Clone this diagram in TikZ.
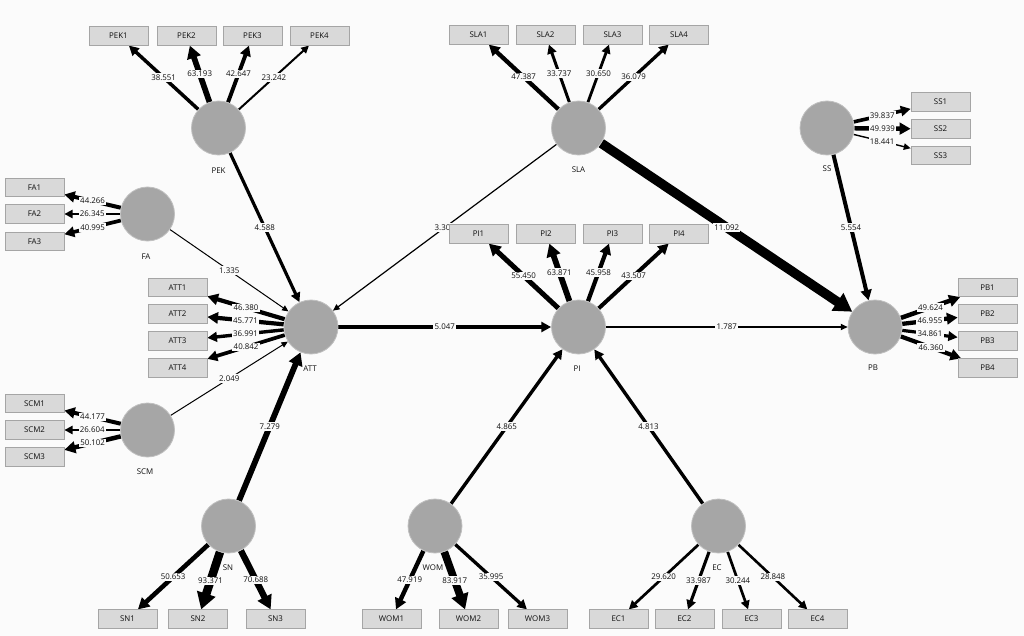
\documentclass[tikz,border=0pt]{standalone}
\usepackage{fontspec}
\setmainfont{Open Sans}
\usetikzlibrary{arrows.meta}
\definecolor{bgc}{RGB}{251,251,251}
\definecolor{cfill}{RGB}{166,166,166}
\definecolor{cdraw}{RGB}{192,192,192}
\definecolor{bfill}{RGB}{217,217,217}
\definecolor{bdraw}{RGB}{165,165,165}
\definecolor{txt}{RGB}{15,15,15}
\pgfdeclarelayer{bg}
\pgfdeclarelayer{edges}
\pgfsetlayers{bg,edges,main}
\tikzset{
  lv/.style={fill=bgc, inner sep=1.3pt, text=txt, font=\fontsize{7.9}{8}\selectfont},
  lvc/.style={fill=none, inner sep=0pt, text=txt, font=\fontsize{7.9}{8}\selectfont},
  con/.style={circle, fill=cfill, draw=cdraw, line width=0.8pt, minimum size=54pt, inner sep=0pt},
  ind/.style={rectangle, fill=bfill, draw=bdraw, line width=0.7pt, minimum width=59pt, minimum height=18.5pt, inner sep=0pt, text=txt, font=\fontsize{7.9}{8}\selectfont},
  ed/.style={line width=#1pt, draw=black, -{Triangle[length=5pt 1.35, width=4pt 1.7]}}
}
\begin{document}
\begin{tikzpicture}[x=1pt,y=-1pt]
\begin{pgfonlayer}{bg}
\fill[bgc] (0,0) rectangle (1024,636);
\end{pgfonlayer}
\useasboundingbox (0,0) rectangle (1024,636);
% constructs
\node[con] (PEK) at (218.5,128) {};
\node[con] (SLA) at (578.5,128) {};
\node[con] (SS) at (827,128) {};
\node[con] (FA) at (147.5,214) {};
\node[con] (ATT) at (311,327) {};
\node[con] (SCM) at (147.5,430) {};
\node[con] (PI) at (578.5,327) {};
\node[con] (PB) at (875,327) {};
\node[con] (SN) at (228.5,526) {};
\node[con] (WOM) at (435,526) {};
\node[con] (EC) at (718.5,526) {};
% construct labels
\node[lvc] (PEKl) at (218.5,171) {PEK};
\node[lvc] (SLAl) at (578.5,170) {SLA};
\node[lvc] (SSl) at (827,169) {SS};
\node[lvc] (FAl) at (146,257) {FA};
\node[lvc] (ATTl) at (310,369) {ATT};
\node[lvc] (SCMl) at (145,472) {SCM};
\node[lvc] (PIl) at (577,369) {PI};
\node[lvc] (PBl) at (873,368) {PB};
\node[lvc] (SNl) at (228,568) {SN};
\node[lvc] (WOMl) at (433,568) {WOM};
\node[lvc] (ECl) at (717,568) {EC};
% indicators
\node[ind] (PEK1) at (118.5,36) {PEK1};
\node[ind] (PEK2) at (186.5,36) {PEK2};
\node[ind] (PEK3) at (252.5,36) {PEK3};
\node[ind] (PEK4) at (319.5,36) {PEK4};
\node[ind] (SLA1) at (478.5,35) {SLA1};
\node[ind] (SLA2) at (545.5,35) {SLA2};
\node[ind] (SLA3) at (612.5,35) {SLA3};
\node[ind] (SLA4) at (679,35) {SLA4};
\node[ind] (SS1) at (940.5,102) {SS1};
\node[ind] (SS2) at (940.5,129) {SS2};
\node[ind] (SS3) at (940.5,155.5) {SS3};
\node[ind] (FA1) at (34.5,187.5) {FA1};
\node[ind] (FA2) at (34.5,214) {FA2};
\node[ind] (FA3) at (34.5,241.5) {FA3};
\node[ind] (ATT1) at (177.5,287.5) {ATT1};
\node[ind] (ATT2) at (177.5,314) {ATT2};
\node[ind] (ATT3) at (177.5,341) {ATT3};
\node[ind] (ATT4) at (177.5,368) {ATT4};
\node[ind] (SCM1) at (34.5,403.5) {SCM1};
\node[ind] (SCM2) at (34.5,430) {SCM2};
\node[ind] (SCM3) at (34.5,457) {SCM3};
\node[ind] (PI1) at (478.5,234) {PI1};
\node[ind] (PI2) at (546,234) {PI2};
\node[ind] (PI3) at (612.5,234) {PI3};
\node[ind] (PI4) at (679,234) {PI4};
\node[ind] (PB1) at (987.5,287.5) {PB1};
\node[ind] (PB2) at (987.5,314) {PB2};
\node[ind] (PB3) at (987.5,341) {PB3};
\node[ind] (PB4) at (987.5,368) {PB4};
\node[ind] (SN1) at (127.5,619) {SN1};
\node[ind] (SN2) at (198,619) {SN2};
\node[ind] (SN3) at (275.5,619) {SN3};
\node[ind] (WOM1) at (391.5,619) {WOM1};
\node[ind] (WOM2) at (468.5,619) {WOM2};
\node[ind] (WOM3) at (537.5,619) {WOM3};
\node[ind] (EC1) at (618.5,619) {EC1};
\node[ind] (EC2) at (684.5,619) {EC2};
\node[ind] (EC3) at (751.5,619) {EC3};
\node[ind] (EC4) at (817.5,619) {EC4};
\begin{pgfonlayer}{edges}
% outer loadings
\draw[ed=3.5] (PEK) -- node[lv]{38.551} (PEK1);
\draw[ed=5.7] (PEK) -- node[lv]{63.193} (PEK2);
\draw[ed=3.9] (PEK) -- node[lv]{42.647} (PEK3);
\draw[ed=2.0] (PEK) -- node[lv]{23.242} (PEK4);
\draw[ed=4.3] (SLA) -- node[lv]{47.387} (SLA1);
\draw[ed=3.0] (SLA) -- node[lv]{33.737} (SLA2);
\draw[ed=2.8] (SLA) -- node[lv]{30.650} (SLA3);
\draw[ed=3.3] (SLA) -- node[lv]{36.079} (SLA4);
\draw[ed=3.6] (SS) -- node[lv]{39.837} (SS1);
\draw[ed=4.5] (SS) -- node[lv]{49.939} (SS2);
\draw[ed=1.4] (SS) -- node[lv]{18.441} (SS3);
\draw[ed=4.0] (FA) -- node[lv]{44.266} (FA1);
\draw[ed=2.4] (FA) -- node[lv]{26.345} (FA2);
\draw[ed=3.7] (FA) -- node[lv]{40.995} (FA3);
\draw[ed=4.2] (ATT) -- node[lv]{46.380} (ATT1);
\draw[ed=4.2] (ATT) -- node[lv]{45.771} (ATT2);
\draw[ed=3.4] (ATT) -- node[lv]{36.991} (ATT3);
\draw[ed=3.7] (ATT) -- node[lv]{40.842} (ATT4);
\draw[ed=4.0] (SCM) -- node[lv]{44.177} (SCM1);
\draw[ed=2.4] (SCM) -- node[lv]{26.604} (SCM2);
\draw[ed=4.5] (SCM) -- node[lv]{50.102} (SCM3);
\draw[ed=5.0] (PI) -- node[lv]{55.450} (PI1);
\draw[ed=5.8] (PI) -- node[lv]{63.871} (PI2);
\draw[ed=4.2] (PI) -- node[lv]{45.958} (PI3);
\draw[ed=4.0] (PI) -- node[lv]{43.507} (PI4);
\draw[ed=4.5] (PB) -- node[lv]{49.624} (PB1);
\draw[ed=4.3] (PB) -- node[lv]{46.955} (PB2);
\draw[ed=3.2] (PB) -- node[lv]{34.861} (PB3);
\draw[ed=4.2] (PB) -- node[lv]{46.360} (PB4);
\draw[ed=4.6] (SN) -- node[lv]{50.653} (SN1);
\draw[ed=8.5] (SN) -- node[lv]{93.371} (SN2);
\draw[ed=6.4] (SN) -- node[lv]{70.688} (SN3);
\draw[ed=4.4] (WOM) -- node[lv]{47.919} (WOM1);
\draw[ed=7.6] (WOM) -- node[lv]{83.917} (WOM2);
\draw[ed=3.3] (WOM) -- node[lv]{35.995} (WOM3);
\draw[ed=2.7] (EC) -- node[lv]{29.620} (EC1);
\draw[ed=3.1] (EC) -- node[lv]{33.987} (EC2);
\draw[ed=2.7] (EC) -- node[lv]{30.244} (EC3);
\draw[ed=2.6] (EC) -- node[lv]{28.848} (EC4);
% inner paths
\draw[ed=3.2] (PEK) -- node[lv]{4.588} (ATT);
\draw[ed=1.0] (FA) -- node[lv]{1.335} (ATT);
\draw[ed=1.0] (SCM) -- node[lv]{2.049} (ATT);
\draw[ed=5.8] (SN) -- node[lv]{7.279} (ATT);
\draw[ed=1.2] (SLA) -- node[lv]{3.300} (ATT);
\draw[ed=3.5] (ATT) -- node[lv]{5.047} (PI);
\draw[ed=9.5] (SLA) -- node[lv]{11.092} (PB);
\draw[ed=4.0] (SS) -- node[lv]{5.554} (PB);
\draw[ed=1.3] (PI) -- node[lv]{1.787} (PB);
\draw[ed=3.4] (WOM) -- node[lv]{4.865} (PI);
\draw[ed=3.4] (EC) -- node[lv]{4.813} (PI);
\end{pgfonlayer}
\end{tikzpicture}
\end{document}
